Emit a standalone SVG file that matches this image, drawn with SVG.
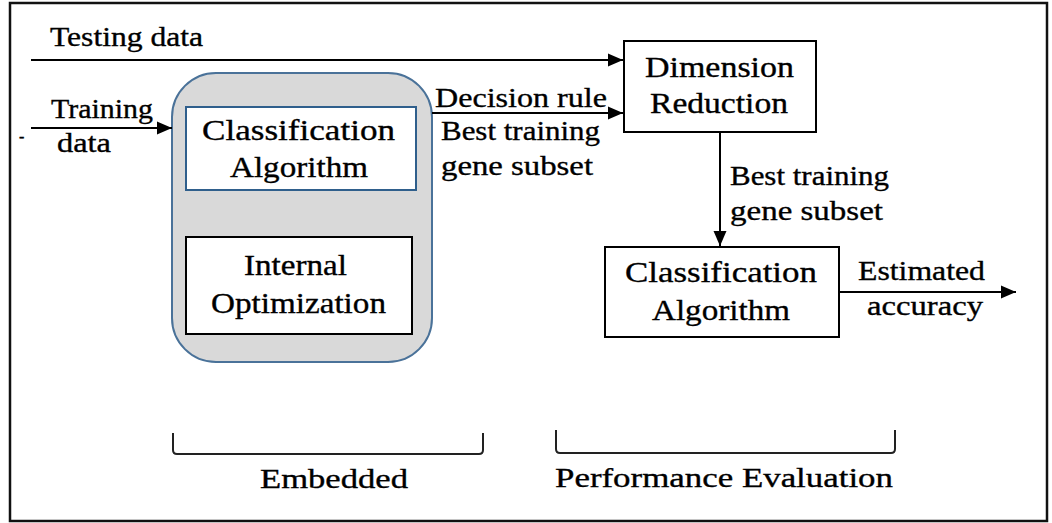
<svg xmlns="http://www.w3.org/2000/svg" width="1052" height="523" viewBox="0 0 1052 523">
  <style>
    .t { font-family: 'Liberation Serif', 'Times New Roman', serif; fill: #000; stroke: #000; stroke-width: 0.35; }
    .lbl { font-size: 30px; }
    .edge { font-size: 28px; }
    .box { fill: #fff; stroke: #000; stroke-width: 2; }
    .conn { stroke: #000; stroke-width: 2; fill: none; }
    .brace { stroke: #222; stroke-width: 2; fill: none; }
  </style>
  <defs>
    <marker id="arrow" markerUnits="userSpaceOnUse" markerWidth="16" markerHeight="14" refX="15" refY="7" orient="auto">
      <path d="M0,0.5 L15,7 L0,13.5 z" fill="#000"/>
    </marker>
  </defs>

  <rect width="1052" height="523" fill="#fff"/>
  <!-- outer frame -->
  <rect x="10" y="3" width="1037" height="518" fill="none" stroke="#111" stroke-width="2.5"/>

  <!-- embedded block: grey rounded container -->
  <g id="embedded">
    <rect x="172" y="73" width="260" height="289" rx="44" ry="44" fill="#d9d9d9" stroke="#4a7299" stroke-width="2"/>
  </g>

  <g id="classification-inner">
    <rect x="186" y="107" width="230" height="83" fill="#fff" stroke="#2f5f8c" stroke-width="2"/>
    <text class="t lbl" x="202" y="140" textLength="193" lengthAdjust="spacingAndGlyphs">Classification</text>
    <text class="t lbl" x="230" y="177" textLength="138" lengthAdjust="spacingAndGlyphs">Algorithm</text>
  </g>

  <g id="internal-optimization">
    <rect class="box" x="186" y="237" width="226" height="97"/>
    <text class="t lbl" x="244" y="275" textLength="103" lengthAdjust="spacingAndGlyphs">Internal</text>
    <text class="t lbl" x="211" y="313" textLength="175" lengthAdjust="spacingAndGlyphs">Optimization</text>
  </g>

  <g id="dimension-reduction">
    <rect class="box" x="624" y="41" width="192" height="91"/>
    <text class="t lbl" x="645" y="77" textLength="149" lengthAdjust="spacingAndGlyphs">Dimension</text>
    <text class="t lbl" x="650" y="113" textLength="138" lengthAdjust="spacingAndGlyphs">Reduction</text>
  </g>

  <g id="classification-eval">
    <rect class="box" x="605" y="247" width="234" height="90"/>
    <text class="t lbl" x="625" y="282" textLength="192" lengthAdjust="spacingAndGlyphs">Classification</text>
    <text class="t lbl" x="652" y="320" textLength="138" lengthAdjust="spacingAndGlyphs">Algorithm</text>
  </g>

  <!-- connectors -->
  <g id="connectors">
    <line class="conn" x1="31" y1="60" x2="623" y2="60" marker-end="url(#arrow)"/>
    <line class="conn" x1="31" y1="128" x2="172" y2="128" marker-end="url(#arrow)"/>
    <line class="conn" x1="432" y1="113" x2="623" y2="113" marker-end="url(#arrow)"/>
    <line class="conn" x1="720" y1="132" x2="720" y2="246" marker-end="url(#arrow)"/>
    <line class="conn" x1="839" y1="292" x2="1016" y2="292" marker-end="url(#arrow)"/>
  </g>

  <!-- connector labels -->
  <g id="edge-labels">
    <text class="t edge" x="50" y="46" textLength="153" lengthAdjust="spacingAndGlyphs">Testing data</text>
    <text class="t edge" x="51" y="118" textLength="102" lengthAdjust="spacingAndGlyphs">Training</text>
    <text class="t edge" x="57" y="152" textLength="54" lengthAdjust="spacingAndGlyphs">data</text>
    <text class="t" x="19" y="142" font-size="16">-</text>
    <text class="t edge" x="435" y="107" textLength="172" lengthAdjust="spacingAndGlyphs">Decision rule</text>
    <text class="t edge" x="441" y="140" textLength="159" lengthAdjust="spacingAndGlyphs">Best training</text>
    <text class="t edge" x="441" y="175" textLength="152" lengthAdjust="spacingAndGlyphs">gene subset</text>
    <text class="t edge" x="730" y="185" textLength="159" lengthAdjust="spacingAndGlyphs">Best training</text>
    <text class="t edge" x="730" y="220" textLength="153" lengthAdjust="spacingAndGlyphs">gene subset</text>
    <text class="t edge" x="858" y="280" textLength="127" lengthAdjust="spacingAndGlyphs">Estimated</text>
    <text class="t edge" x="867" y="315" textLength="116" lengthAdjust="spacingAndGlyphs">accuracy</text>
  </g>

  <!-- group brackets -->
  <g id="bracket-embedded">
    <path class="brace" d="M173,433 L173,450 Q173,454 177,454 L479,454 Q483,454 483,450 L483,433"/>
    <text class="t edge" x="260" y="488" textLength="148" lengthAdjust="spacingAndGlyphs">Embedded</text>
  </g>
  <g id="bracket-performance">
    <path class="brace" d="M556,430 L556,449 Q556,453 560,453 L891,453 Q895,453 895,449 L895,430"/>
    <text class="t edge" x="555" y="487" textLength="338" lengthAdjust="spacingAndGlyphs">Performance Evaluation</text>
  </g>
</svg>
